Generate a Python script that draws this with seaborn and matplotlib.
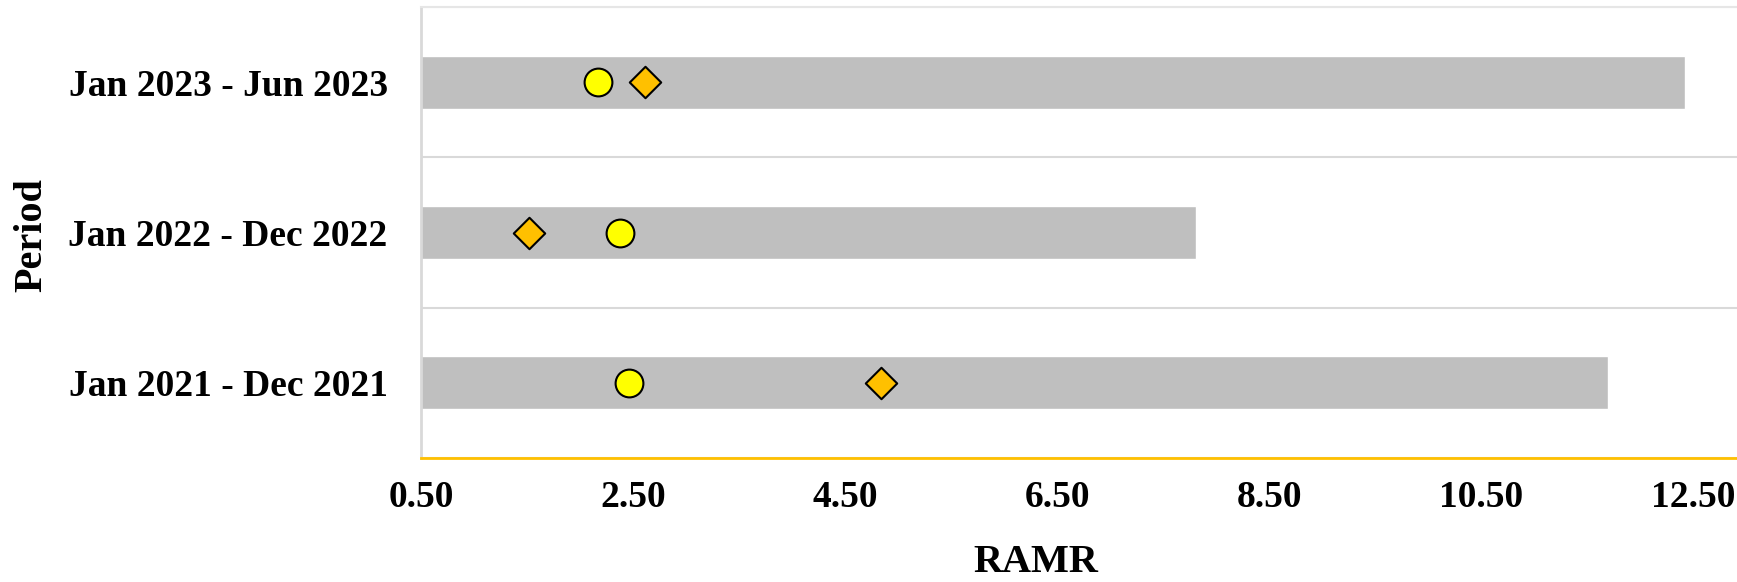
import matplotlib
matplotlib.use('Agg')
import matplotlib.pyplot as plt
import seaborn as sns
import pandas as pd

periods = ["Jan 2023 - Jun 2023", "Jan 2022 - Dec 2022", "Jan 2021 - Dec 2021"]
bar_values = [12.42, 7.81, 11.70]
circle_values = [2.17, 2.38, 2.46]
diamond_values = [2.61, 1.52, 4.84]
x_ticks = [0.5, 2.5, 4.5, 6.5, 8.5, 10.5, 12.5]

sns.set_theme(style='white')
plt.rcParams['font.family'] = ['Liberation Serif', 'DejaVu Serif']
plt.rcParams['font.weight'] = 'bold'

W, H = 1737, 582
fig = plt.figure(figsize=(W / 100, H / 100), dpi=100)
ax = fig.add_axes([421 / W, (H - 458) / H, 1 - 421 / W, (458 - 7) / H])

df = pd.DataFrame({"period": periods, "bar": bar_values,
                   "circle": circle_values, "diamond": diamond_values})

sns.barplot(data=df, x="bar", y="period", order=periods, color="#BFBFBF",
            saturation=1, width=0.353, ax=ax, zorder=2)
sns.stripplot(data=df, x="circle", y="period", order=periods, jitter=False,
              marker="o", size=20, color="#FFFF00", edgecolor="black",
              linewidth=1.5, ax=ax, zorder=4)
sns.stripplot(data=df, x="diamond", y="period", order=periods, jitter=False,
              marker="D", size=16, color="#FFC000", edgecolor="black",
              linewidth=1.5, ax=ax, zorder=4)

ax.set_xlim(0.5, 0.5 + (W - 421) / 106.0)
ax.set_ylim(len(periods) - 0.5, -0.5)
ax.set_xticks(x_ticks)
ax.set_xticklabels([f"{t:.2f}" for t in x_ticks])

ax.set_yticks([i + 0.5 for i in range(-1, len(periods))], minor=True)
ax.grid(False)
ax.grid(which="minor", axis="y", color="#D9D9D9", lw=1.5, zorder=0)

ax.tick_params(axis="y", which="major", length=0, pad=24, labelsize=27)
ax.tick_params(axis="x", which="major", length=0, pad=16, labelsize=27)
ax.tick_params(axis="y", which="minor", length=8, width=1.5,
               direction="in", color="#BFBFBF")
for lab in ax.get_xticklabels() + ax.get_yticklabels():
    lab.set_fontweight("bold")
    lab.set_color("black")

for s in ["right"]:
    ax.spines[s].set_visible(False)
ax.spines["top"].set_color("#E6E6E6")
ax.spines["top"].set_linewidth(1.5)
ax.spines["left"].set_color("#D9D9D9")
ax.spines["left"].set_linewidth(2)
ax.spines["bottom"].set_color("#FFC000")
ax.spines["bottom"].set_linewidth(2)

ax.set_xlabel("RAMR", fontsize=29, fontweight="bold", color="black")
ax.set_ylabel("Period", fontsize=29, fontweight="bold", color="black")
ax.xaxis.label.set_va("center")
ax.yaxis.label.set_va("center")
ax.xaxis.set_label_coords((1036 - 421) / (W - 421), (458 - 562) / 451)
ax.yaxis.set_label_coords((32 - 421) / (W - 421), (458 - 235) / 451)

fig.savefig("out.png", dpi=100)
